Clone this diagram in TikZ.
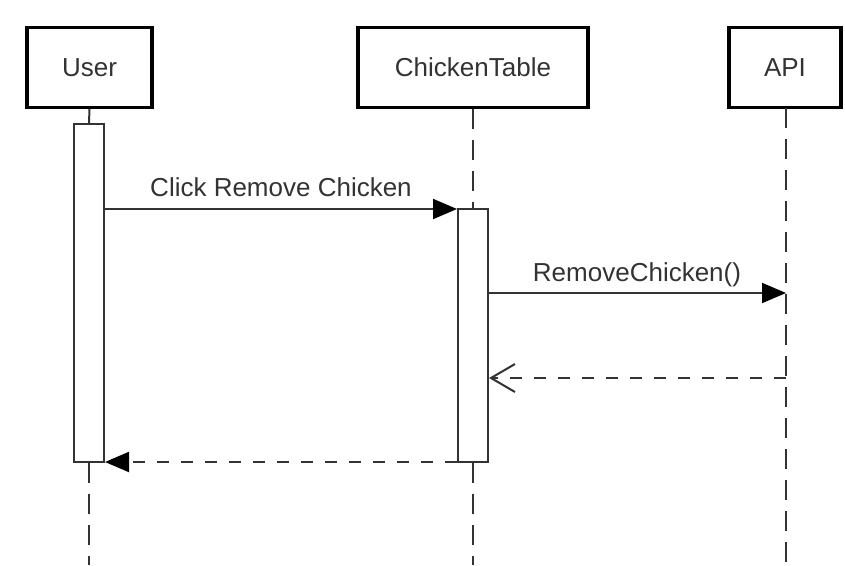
\documentclass[tikz,border=0pt]{standalone}
\usepackage{fontspec}
\setmainfont{Liberation Sans}
\usetikzlibrary{arrows.meta}
\definecolor{ink}{HTML}{333333}
\tikzset{
  x=1pt, y=-1pt,
  actor/.style={draw=black, line width=3.2pt, fill=white, inner sep=0pt,
    minimum height=80pt, text=ink, font=\fontsize{26}{30}\selectfont},
  activation/.style={draw=ink, line width=2pt, fill=white, inner sep=0pt,
    minimum width=30pt},
  lifeline/.style={draw=ink, line width=2pt, dash pattern=on 20pt off 11pt},
  solidtip/.style={-{Triangle[length=24pt,width=20pt,color=black,fill=black]}},
  msg/.style={draw=ink, line width=2pt, solidtip},
  reply/.style={draw=ink, line width=2pt, dash pattern=on 12pt off 12pt},
  label/.style={text=ink, font=\fontsize{26}{30}\selectfont, inner sep=0pt, anchor=base},
}
\begin{document}
\begin{tikzpicture}
\useasboundingbox (0,0) rectangle (845,565);
\fill[white] (0,0) rectangle (845,565);

% participants
\node[actor, minimum width=125pt] (user)  at (89.5,67.5) {User};
\node[actor, minimum width=230pt] (table) at (473,67.5) {ChickenTable};
\node[actor, minimum width=112pt] (api)   at (785,67.5) {API};

% lifeline anchors
\coordinate (userEnd)  at (89,565);
\coordinate (tableEnd) at (473,565);
\coordinate (apiTop)   at (786,108);
\coordinate (apiEnd)   at (786,565);

% activation bars
\node[activation, minimum height=338pt] (userAct)  at (89,293) {};
\node[activation, minimum height=253pt] (tableAct) at (473,335.5) {};

% lifelines
\draw[draw=ink, line width=2pt] (user.south) -- (userAct.north);
\draw[lifeline] (userAct.south) -- (userEnd);
\draw[lifeline] (table.south) -- (tableAct.north);
\draw[lifeline] (tableAct.south) -- (tableEnd);
\draw[lifeline] (apiTop) -- (apiEnd);

% messages
\coordinate (m1s) at (userAct.east |- 0,209);
\coordinate (m1e) at (tableAct.west |- 0,209);
\draw[msg] (m1s) -- (m1e);
\node[label] (l1) at (281,196) {Click Remove Chicken};

\coordinate (m2s) at (tableAct.east |- 0,293);
\coordinate (m2e) at (786,293);
\draw[msg] (m2s) -- (m2e);
\node[label] (l2) at (637,281) {RemoveChicken()};

\coordinate (m3s) at (786,378);
\coordinate (m3e) at (tableAct.east |- 0,378);
\draw[reply, -{Straight Barb[length=24pt,width=28pt,line width=2pt]}] (m3s) -- (m3e);

\coordinate (m4s) at (tableAct.west |- 0,462);
\coordinate (m4e) at (userAct.east |- 0,462);
\draw[reply, solidtip] (m4s) -- (m4e);
\end{tikzpicture}
\end{document}
